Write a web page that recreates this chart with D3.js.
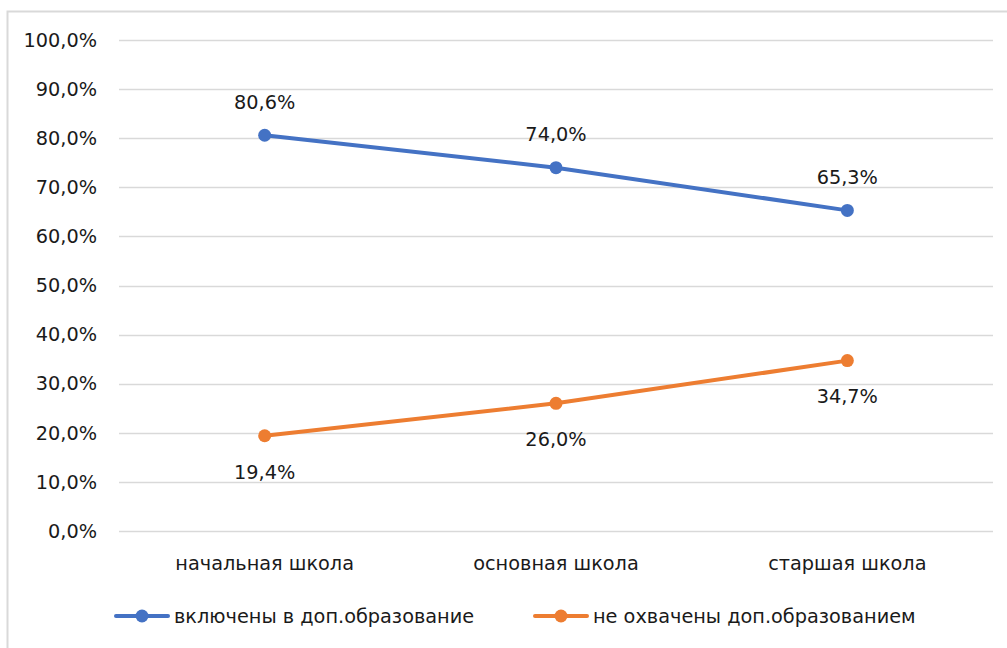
<!DOCTYPE html>
<html>
<head>
<meta charset="utf-8">
<script src="https://cdn.jsdelivr.net/npm/d3@7"></script>
<style>
  body { margin: 0; background: #fff; }
  svg text { font-family: "DejaVu Sans", sans-serif; fill: #1a1a1a; }
</style>
</head>
<body>
<svg id="chart" width="1007" height="648"></svg>
<script>
// data
const categories = ["начальная школа", "основная школа", "старшая школа"];
const included = [80.6, 74.0, 65.3];
const notCovered = [19.4, 26.0, 34.7];
const seriesNames = ["включены в доп.образование", "не охвачены доп.образованием"];
const yTicks = [0, 10, 20, 30, 40, 50, 60, 70, 80, 90, 100];

const colors = ["#4472C4", "#ED7D31"];
const fmt = v => v.toFixed(1).replace(".", ",") + "%";
const fontSize = "19.3px";

const svg = d3.select("#chart");

// outer frame (chart area border)
svg.append("path")
  .attr("d", "M7.5,648 V11.5 H1007")
  .attr("fill", "none")
  .attr("stroke", "#d9d9d9")
  .attr("stroke-width", 2);

const x = d3.scaleBand().domain(categories).range([119, 993]);
const y = d3.scaleLinear().domain([0, 100]).range([531, 40]);

// gridlines
svg.append("g")
  .selectAll("line")
  .data(yTicks)
  .join("line")
    .attr("x1", 119).attr("x2", 993)
    .attr("y1", d => Math.round(y(d)) + 0.5)
    .attr("y2", d => Math.round(y(d)) + 0.5)
    .attr("stroke", "#d9d9d9")
    .attr("stroke-width", 1.3);

// y tick labels
svg.append("g")
  .selectAll("text")
  .data(yTicks)
  .join("text")
    .attr("x", 97)
    .attr("y", d => y(d))
    .attr("dy", "0.35em")
    .attr("text-anchor", "end")
    .style("font-size", fontSize)
    .text(d => fmt(d));

// category labels
svg.append("g")
  .selectAll("text")
  .data(categories)
  .join("text")
    .attr("x", d => x(d) + x.bandwidth() / 2)
    .attr("y", 563)
    .attr("dy", "0.35em")
    .attr("text-anchor", "middle")
    .style("font-size", fontSize)
    .text(d => d);

const series = [included, notCovered];
const line = d3.line()
  .x((d, i) => x(categories[i]) + x.bandwidth() / 2)
  .y(d => y(d));

series.forEach((vals, s) => {
  const g = svg.append("g");
  g.append("path")
    .datum(vals)
    .attr("d", line)
    .attr("fill", "none")
    .attr("stroke", colors[s])
    .attr("stroke-width", 4)
    .attr("stroke-linecap", "round");

  g.selectAll("circle")
    .data(vals)
    .join("circle")
      .attr("cx", (d, i) => x(categories[i]) + x.bandwidth() / 2)
      .attr("cy", d => y(d))
      .attr("r", 6.5)
      .attr("fill", colors[s]);

  // data labels: above for the first series, below for the second
  g.selectAll("text")
    .data(vals)
    .join("text")
      .attr("x", (d, i) => x(categories[i]) + x.bandwidth() / 2)
      .attr("y", d => y(d) + (s === 0 ? -33 : 36))
      .attr("dy", "0.35em")
      .attr("text-anchor", "middle")
      .style("font-size", fontSize)
      .text(d => fmt(d));
});

// legend
const legendX = [116, 535];
const legend = svg.append("g");
seriesNames.forEach((name, s) => {
  const lg = legend.append("g").attr("transform", `translate(${legendX[s]},616)`);
  lg.append("line")
    .attr("x1", 0).attr("x2", 52)
    .attr("stroke", colors[s])
    .attr("stroke-width", 4)
    .attr("stroke-linecap", "round");
  lg.append("circle")
    .attr("cx", 26).attr("r", 6.5)
    .attr("fill", colors[s]);
  lg.append("text")
    .attr("x", 58)
    .attr("dy", "0.35em")
    .style("font-size", fontSize)
    .text(name);
});
</script>
</body>
</html>
